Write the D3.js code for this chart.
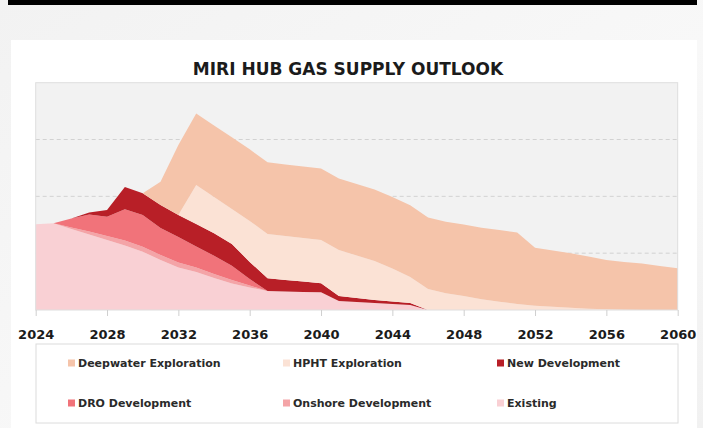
<!DOCTYPE html>
<html>
<head>
<meta charset="utf-8">
<script src="https://cdn.jsdelivr.net/npm/d3@7"></script>
<style>
body { margin: 0; background: #f4f4f4; }
svg { display: block; font-family: "DejaVu Sans", sans-serif; }
</style>
</head>
<body>
<svg id="chart"></svg>
<script>
// Sizes
const width = 703;
const height = 428;
const plot = {left: 35.7, right: 677.7, top: 82.7, bottom: 310};

// Years on the x axis
const years = [2024, 2025, 2026, 2027, 2028, 2029, 2030, 2031, 2032, 2033,
               2034, 2035, 2036, 2037, 2038, 2039, 2040, 2041, 2042, 2043,
               2044, 2045, 2046, 2047, 2048, 2049, 2050, 2051, 2052, 2053,
               2054, 2055, 2056, 2057, 2058, 2059, 2060];
const tickYears = [2024, 2028, 2032, 2036, 2040, 2044, 2048, 2052, 2056, 2060];
const gridValues = [500, 1000, 1500];

// Series values, one per year
const existing  = [754, 763, 713, 664, 616, 568, 513, 440, 374, 334, 282, 233, 198, 167, 163, 158, 156, 79, 70, 62, 53, 44,
                   0, 0, 0, 0, 0, 0, 0, 0, 0, 0, 0, 0, 0, 0, 0];
const onshore   = [0, 0, 13, 26, 35, 44, 44, 44, 44, 40, 35, 31, 18,
                   0, 0, 0, 0, 0, 0, 0, 0, 0, 0, 0, 0, 0, 0, 0, 0, 0, 0, 0, 0, 0, 0, 0, 0];
const dro       = [0, 0, 79, 150, 170, 275, 279, 238, 224, 185, 161, 126, 57,
                   0, 0, 0, 0, 0, 0, 0, 0, 0, 0, 0, 0, 0, 0, 0, 0, 0, 0, 0, 0, 0, 0, 0, 0];
const newDev    = [0, 0, 0, 18, 59, 196, 191, 202, 194, 198, 197, 191, 150, 112, 101, 92, 79, 44, 35, 26, 22, 18,
                   0, 0, 0, 0, 0, 0, 0, 0, 0, 0, 0, 0, 0, 0, 0];
const hpht      = [0, 0, 0, 0, 0, 0, 0, 0, 0, 343, 319, 308, 361, 390, 387, 383, 381, 405, 374, 343,
                   290, 229, 185, 147, 123, 94, 73, 53, 38, 29, 20, 11, 6, 3, 0, 0, 0];
const deepwater = [0, 0, 0, 0, 0, 0, 0, 205, 616, 630, 630, 630, 630, 630, 630, 630, 630, 630, 630, 630,
                   630, 630, 630, 630, 630, 630, 630, 630, 510, 495, 479, 459, 434, 420, 409, 387, 367];

// Legend order and colours
const seriesNames = ['Deepwater Exploration', 'HPHT Exploration', 'New Development',
                     'DRO Development', 'Onshore Development', 'Existing'];
const colors = {
    'Existing': '#f9d0d4',
    'Onshore Development': '#f4a4a7',
    'DRO Development': '#f1737a',
    'New Development': '#b81f27',
    'HPHT Exploration': '#fbe2d5',
    'Deepwater Exploration': '#f5c4aa'
};
// Stack order, bottom to top
const stackKeys = ['Existing', 'Onshore Development', 'DRO Development',
                   'New Development', 'HPHT Exploration', 'Deepwater Exploration'];

const table = years.map((yr, i) => ({
    year: yr,
    'Existing': existing[i],
    'Onshore Development': onshore[i],
    'DRO Development': dro[i],
    'New Development': newDev[i],
    'HPHT Exploration': hpht[i],
    'Deepwater Exploration': deepwater[i]
}));

const svg = d3.select('#chart').attr('width', width).attr('height', height);

// Page background
const defs = svg.append('defs');
const grad = defs.append('linearGradient').attr('id', 'bg')
    .attr('x1', '0').attr('y1', '0').attr('x2', '1').attr('y2', '1');
grad.append('stop').attr('offset', '0%').attr('stop-color', '#f2f2f2');
grad.append('stop').attr('offset', '55%').attr('stop-color', '#f8f8f8');
grad.append('stop').attr('offset', '100%').attr('stop-color', '#f1f1f1');
svg.append('rect').attr('width', width).attr('height', height).attr('fill', 'url(#bg)');

// Black bar on top, white card
svg.append('rect').attr('x', 8).attr('y', 0).attr('width', 689).attr('height', 5).attr('fill', '#000');
svg.append('rect').attr('x', 11).attr('y', 40).attr('width', 686).attr('height', 400).attr('fill', '#fff');

// Title
svg.append('text')
    .attr('x', 348).attr('y', 75)
    .attr('text-anchor', 'middle')
    .attr('font-size', 17).attr('font-weight', 'bold')
    .attr('fill', '#1b1b1b')
    .text('MIRI HUB GAS SUPPLY OUTLOOK');

// Scales
const x = d3.scaleLinear().domain([2024, 2060]).range([plot.left, plot.right]);
const y = d3.scaleLinear().domain([0, 2000]).range([plot.bottom, plot.top]);

// Plot background
svg.append('rect')
    .attr('x', plot.left).attr('y', plot.top)
    .attr('width', plot.right - plot.left).attr('height', plot.bottom - plot.top)
    .attr('fill', '#f2f2f2');

// Gridlines
svg.append('g').selectAll('line').data(gridValues).enter().append('line')
    .attr('x1', plot.left).attr('x2', plot.right)
    .attr('y1', d => y(d)).attr('y2', d => y(d))
    .attr('stroke', '#d2d2d2').attr('stroke-width', 1)
    .attr('stroke-dasharray', '4,3');

// Stacked areas
const stacked = d3.stack().keys(stackKeys)(table);
const area = d3.area()
    .x(d => x(d.data.year))
    .y0(d => y(d[0]))
    .y1(d => y(d[1]));

svg.append('g').selectAll('path').data(stacked).enter().append('path')
    .attr('d', area)
    .attr('fill', d => colors[d.key]);

// Plot border
svg.append('rect')
    .attr('x', plot.left).attr('y', plot.top)
    .attr('width', plot.right - plot.left).attr('height', plot.bottom - plot.top)
    .attr('fill', 'none').attr('stroke', '#dedede').attr('stroke-width', 1);

// X axis
const xAxis = svg.append('g')
    .attr('transform', `translate(0, ${plot.bottom})`)
    .call(d3.axisBottom(x).tickValues(tickYears).tickFormat(d3.format('d'))
        .tickSize(6).tickSizeOuter(0).tickPadding(14));
xAxis.select('.domain').remove();
xAxis.selectAll('line').attr('stroke', '#cfcfcf');
xAxis.selectAll('text')
    .attr('font-family', '"DejaVu Sans", sans-serif')
    .attr('font-size', 13).attr('font-weight', 'bold')
    .attr('fill', '#1b1b1b');

// Legend
svg.append('rect')
    .attr('x', 36).attr('y', 344).attr('width', 642).attr('height', 79)
    .attr('fill', '#fff').attr('stroke', '#dcdcdc');

const legendX = [68, 283, 497];
const legendY = [363, 403];
const legend = svg.append('g').selectAll('g').data(seriesNames).enter().append('g')
    .attr('transform', (d, i) => `translate(${legendX[i % 3]}, ${legendY[Math.floor(i / 3)]})`);
legend.append('rect')
    .attr('x', 0).attr('y', -3.5).attr('width', 7).attr('height', 7)
    .attr('fill', d => colors[d]);
legend.append('text')
    .attr('x', 10).attr('y', 4)
    .attr('font-size', 11).attr('font-weight', 'bold')
    .attr('fill', '#2a2a2a')
    .text(d => d);
</script>
</body>
</html>
